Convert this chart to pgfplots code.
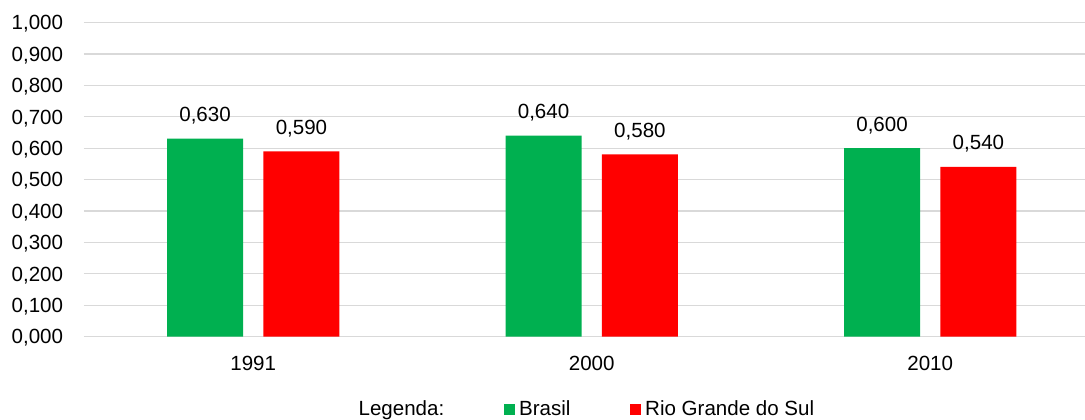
\documentclass[border=0pt]{standalone}
\usepackage{fontspec}
\setmainfont{Liberation Sans}
\usepackage{pgfplots}
\pgfplotsset{compat=1.18}

\definecolor{brgreen}{HTML}{00B050}
\definecolor{rsred}{HTML}{FF0000}
\definecolor{gridgray}{HTML}{D9D9D9}

\newcommand{\chartfont}{\fontsize{15.4pt}{18pt}\selectfont}

\begin{document}
\chartfont
\begin{tikzpicture}
\path[use as bounding box] (-63pt,-61.9pt) rectangle (750.75pt,252.4pt);
\begin{axis}[
  scale only axis,
  width=761.6pt, height=235.5pt,
  ybar,
  xmin=-0.5, xmax=2.5,
  ymin=0, ymax=1,
  axis line style={draw=none},
  major tick length=0pt,
  xtick={0,1,2},
  xticklabels={1991,2000,2010},
  ytick={0,0.1,0.2,0.3,0.4,0.5,0.6,0.7,0.8,0.9,1},
  ymajorgrids,
  grid style={gridgray, line width=0.9pt},
  /pgf/number format/assume math mode=true,
  yticklabel={\pgfmathprintnumber[fixed,fixed zerofill,precision=3,use comma,1000 sep={}]{\tick}},
  tick label style={font=\chartfont},
  yticklabel style={anchor=base east, inner sep=0pt, xshift=-15.5pt, yshift=-5.5pt},
  xticklabel style={anchor=base, inner sep=0pt, yshift=-25.3pt},
  nodes near coords={\pgfmathprintnumber[fixed,fixed zerofill,precision=3,use comma,assume math mode=true]{\pgfplotspointmeta}},
  nodes near coords style={anchor=base, inner sep=0pt, yshift=12.8pt, font=\chartfont, text=black},
  legend columns=3,
  legend style={draw=none, fill=none, font=\chartfont,
    at={(0.251,-0.2325)}, anchor=west,
    nodes={inner sep=0pt},
    /tikz/every odd column/.append style={column sep=3pt},
    /tikz/every even column/.append style={column sep=44.5pt}},
]
% heading of the legend, without a swatch
\addlegendimage{legend image code/.code={\path[draw=none, fill=none] (0pt,-4.3pt) rectangle (8.6pt,4.3pt);}}
\addlegendentry{Legenda:}

% Brasil
\addplot[draw=none, fill=brgreen, bar width=0.2245, bar shift=-0.1424,
  legend image code/.code={\fill[brgreen] (0pt,-4.3pt) rectangle (8.6pt,4.3pt);}]
  coordinates {(0,0.630) (1,0.640) (2,0.600)};
\addlegendentry{Brasil}

% Rio Grande do Sul
\addplot[draw=none, fill=rsred, bar width=0.2245, bar shift=0.1424,
  legend image code/.code={\fill[rsred] (0pt,-4.3pt) rectangle (8.6pt,4.3pt);}]
  coordinates {(0,0.590) (1,0.580) (2,0.540)};
\addlegendentry{Rio Grande do Sul}
\end{axis}
\end{tikzpicture}
\end{document}
